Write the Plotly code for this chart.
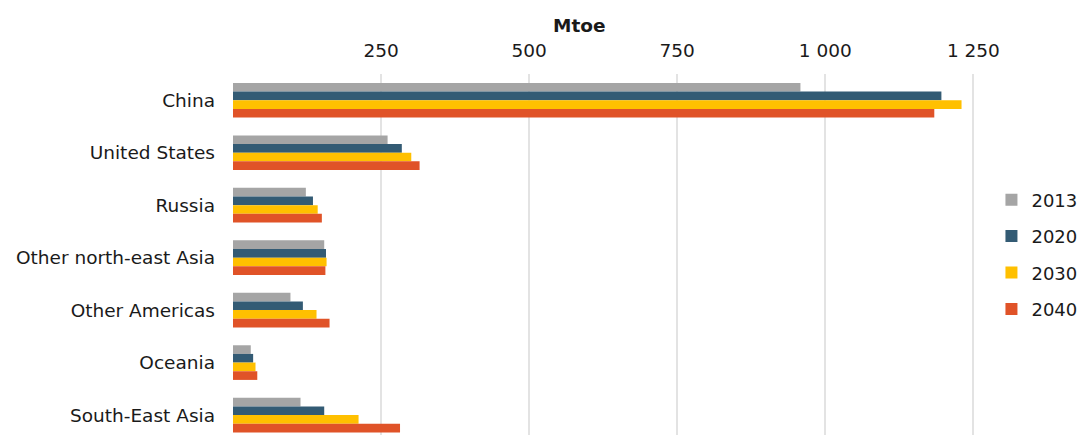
import plotly.graph_objects as go

categories = ["China", "United States", "Russia", "Other north-east Asia",
              "Other Americas", "Oceania", "South-East Asia"]
years = ["2013", "2020", "2030", "2040"]
v2013 = [958, 261, 123, 154, 97, 30, 114]
v2020 = [1196, 285, 135, 157, 118, 34, 154]
v2030 = [1230, 301, 143, 158, 141, 38, 212]
v2040 = [1184, 315, 150, 156, 163, 41, 282]
colors = ["#A5A5A5", "#335B74", "#FFC000", "#E05328"]
tick_vals = [0, 250, 500, 750, 1000, 1250]
tick_text = ["", "250", "500", "750", "1 000", "1 250"]

fig = go.Figure()
for i, (name, vals) in enumerate(zip(years, [v2013, v2020, v2030, v2040])):
    fig.add_trace(go.Bar(
        y=categories, x=vals, name=name, orientation="h",
        marker=dict(color=colors[i], line=dict(width=0)),
        legendgroup=name,
    ))

FONT = "DejaVu Sans, Verdana, sans-serif"
FS = 18.5
fig.update_layout(
    width=1080, height=427,
    margin=dict(l=225, r=85, t=66, b=0),
    paper_bgcolor="white", plot_bgcolor="white",
    barmode="group", bargap=0.34, bargroupgap=0,
    font=dict(family=FONT, size=FS, color="#1a1a1a"),
    xaxis=dict(side="top", range=[0, 1300], tickvals=tick_vals, ticktext=tick_text,
               showgrid=True, gridcolor="#E3E3E3", gridwidth=2,
               zeroline=False, showline=False, ticks="", automargin=False,
               ticklabelstandoff=12, tickfont=dict(size=FS)),
    yaxis=dict(range=[6.38, -0.5], showgrid=False, zeroline=False, showline=False,
               ticks="", automargin=False, ticklabelstandoff=17,
               tickfont=dict(size=FS)),
    legend=dict(x=0.985, y=0.5, xanchor="left", yanchor="middle",
                traceorder="grouped", tracegroupgap=10, borderwidth=0,
                bgcolor="rgba(0,0,0,0)",
                font=dict(size=18), itemwidth=30),
    annotations=[dict(text="<b>Mtoe</b>", xref="paper", yref="paper",
                      x=0.4506, y=1, yshift=49, showarrow=False,
                      xanchor="center", yanchor="middle", font=dict(size=FS))],
)
fig.write_html("out.html")
